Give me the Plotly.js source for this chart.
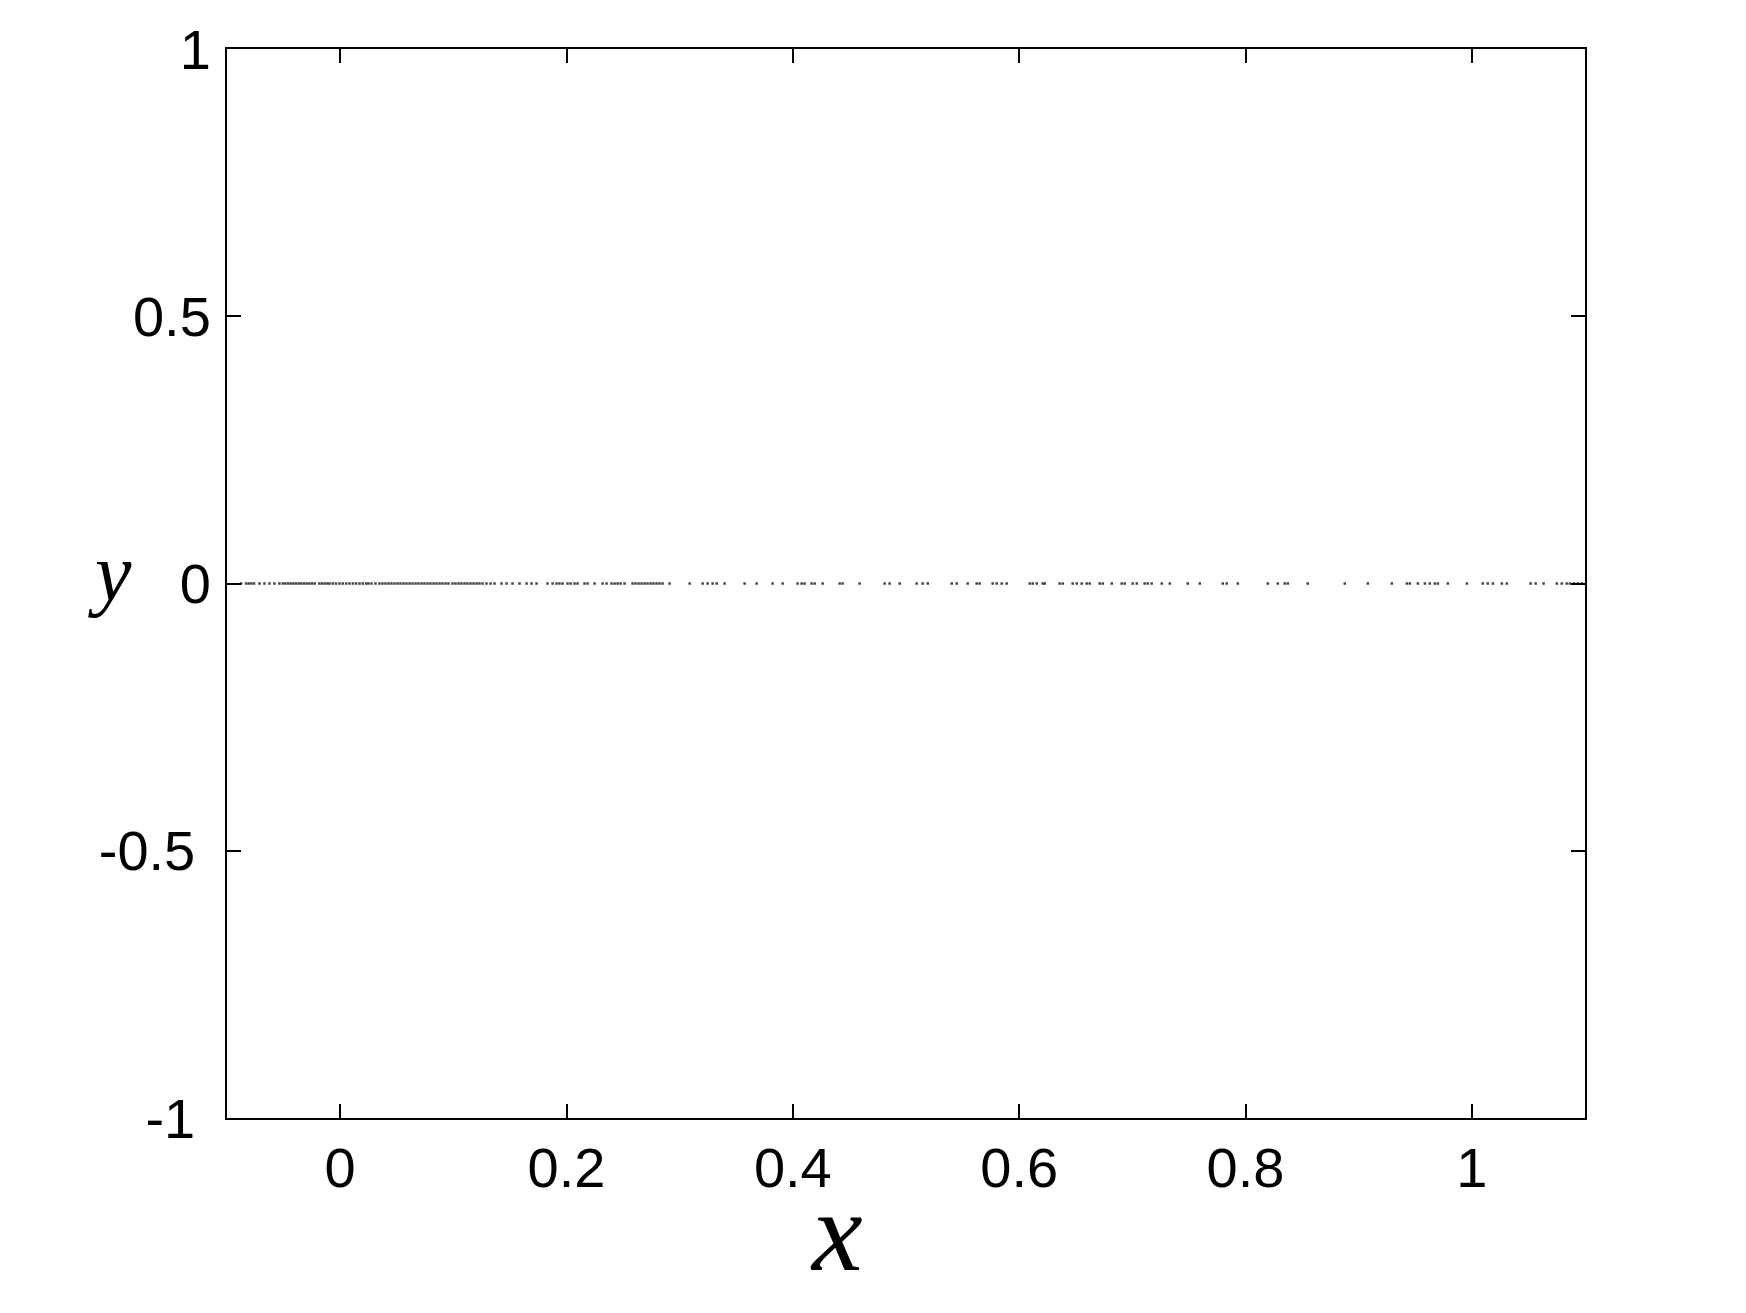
<!DOCTYPE html>
<html>
<head>
<meta charset="utf-8">
<script src="https://cdn.plot.ly/plotly-3.0.1.min.js"></script>
<style>
  html, body { margin: 0; padding: 0; background: #fff; }
  #chart { width: 1746px; height: 1313px; }
</style>
</head>
<body>
<div id="chart"></div>
<script>
// x positions of the points (all points lie on y = 0)
const xValues = [
    -0.0875, -0.0831, -0.0808, -0.0784, -0.0761, -0.0713, -0.0669, -0.0625, -0.0581, -0.0537,
    -0.0507, -0.0484, -0.0460, -0.0437, -0.0413, -0.0390, -0.0366, -0.0343, -0.0320, -0.0296,
    -0.0272, -0.0249, -0.0225, -0.0184, -0.0160, -0.0137, -0.0113, -0.0095, -0.0066, -0.0037,
    -0.0006, 0.0023, 0.0053, 0.0082, 0.0112, 0.0141, 0.0171, 0.0200, 0.0230, 0.0250,
    0.0277, 0.0312, 0.0347, 0.0374, 0.0400, 0.0427, 0.0453, 0.0480, 0.0507, 0.0533,
    0.0560, 0.0586, 0.0613, 0.0639, 0.0666, 0.0692, 0.0719, 0.0745, 0.0772, 0.0798,
    0.0825, 0.0851, 0.0878, 0.0904, 0.0931, 0.0957, 0.0993, 0.1019, 0.1046, 0.1072,
    0.1099, 0.1125, 0.1152, 0.1178, 0.1205, 0.1231, 0.1258, 0.1293, 0.1329, 0.1364,
    0.1426, 0.1470, 0.1523, 0.1585, 0.1647, 0.1691, 0.1735, 0.1832, 0.1877, 0.1912,
    0.1938, 0.1965, 0.2009, 0.2036, 0.2071, 0.2098, 0.2159, 0.2186, 0.2248, 0.2319,
    0.2354, 0.2398, 0.2425, 0.2451, 0.2478, 0.2513, 0.2584, 0.2610, 0.2637, 0.2663,
    0.2690, 0.2716, 0.2743, 0.2769, 0.2796, 0.2822, 0.2849, 0.2911, 0.3088, 0.3203,
    0.3247, 0.3291, 0.3327, 0.3397, 0.3574, 0.3680, 0.3821, 0.3910, 0.4042, 0.4078,
    0.4104, 0.4166, 0.4193, 0.4263, 0.4414, 0.4440, 0.4590, 0.4811, 0.4855, 0.4944,
    0.5094, 0.5147, 0.5192, 0.5404, 0.5448, 0.5545, 0.5625, 0.5651, 0.5766, 0.5801,
    0.5846, 0.5890, 0.6093, 0.6120, 0.6155, 0.6208, 0.6226, 0.6358, 0.6385, 0.6473,
    0.6509, 0.6553, 0.6597, 0.6623, 0.6712, 0.6739, 0.6818, 0.6906, 0.6933, 0.7003,
    0.7039, 0.7109, 0.7136, 0.7171, 0.7260, 0.7331, 0.7490, 0.7596, 0.7799, 0.7834,
    0.7932, 0.8197, 0.8285, 0.8347, 0.8374, 0.8550, 0.8877, 0.9081, 0.9293, 0.9426,
    0.9452, 0.9523, 0.9585, 0.9629, 0.9673, 0.9700, 0.9788, 0.9956, 1.0097, 1.0141,
    1.0186, 1.0265, 1.0309, 1.0519, 1.0564, 1.0634, 1.0751, 1.0795, 1.0839, 1.0866,
    1.0902, 1.0937, 1.0972
];
const yLevel = 0;
const yValues = xValues.map(() => yLevel);

const xTickVals = [0, 0.2, 0.4, 0.6, 0.8, 1];
const xTickText = ['0', '0.2', '0.4', '0.6', '0.8', '1'];
const yTickVals = [-1, -0.5, 0, 0.5, 1];
// negative labels sit a little further left in the original, hence the trailing nbsp
const yTickText = ['-1\u00a0', '-0.5\u00a0', '0', '0.5', '1'];

const trace = {
    x: xValues,
    y: yValues,
    type: 'scatter',
    mode: 'markers',
    marker: { symbol: 'square', size: 2.5, color: '#444', line: { width: 0 } },
    hoverinfo: 'skip'
};

const axisCommon = {
    showline: true,
    mirror: 'ticks',
    linecolor: '#000',
    linewidth: 2,
    ticks: 'inside',
    ticklen: 14,
    tickwidth: 2,
    tickcolor: '#000',
    showgrid: false,
    zeroline: false,
    tickmode: 'array',
    tickfont: { family: 'Liberation Sans, Arial, sans-serif', size: 56, color: '#000' }
};

const layout = {
    width: 1746,
    height: 1313,
    margin: { l: 227, r: 161, t: 49, b: 195 },
    paper_bgcolor: '#fff',
    plot_bgcolor: '#fff',
    showlegend: false,
    xaxis: Object.assign({}, axisCommon, {
        range: [-0.1, 1.1],
        tickvals: xTickVals,
        ticktext: xTickText,
        ticklabelstandoff: 0
    }),
    yaxis: Object.assign({}, axisCommon, {
        range: [-1, 1],
        tickvals: yTickVals,
        ticktext: yTickText,
        ticklabelstandoff: 3
    }),
    annotations: [
        {
            text: 'x', xref: 'paper', yref: 'paper', x: 0.449, y: -0.106,
            xanchor: 'center', yanchor: 'middle', showarrow: false,
            font: { family: 'Liberation Serif, Times New Roman, serif', size: 114, color: '#000', style: 'italic' }
        },
        {
            text: 'y', xref: 'paper', yref: 'paper', x: -0.086, y: 0.51,
            xanchor: 'center', yanchor: 'middle', showarrow: false,
            font: { family: 'Liberation Serif, Times New Roman, serif', size: 82, color: '#000', style: 'italic' }
        }
    ]
};

Plotly.newPlot('chart', [trace], layout, { staticPlot: true, displayModeBar: false });
</script>
</body>
</html>
